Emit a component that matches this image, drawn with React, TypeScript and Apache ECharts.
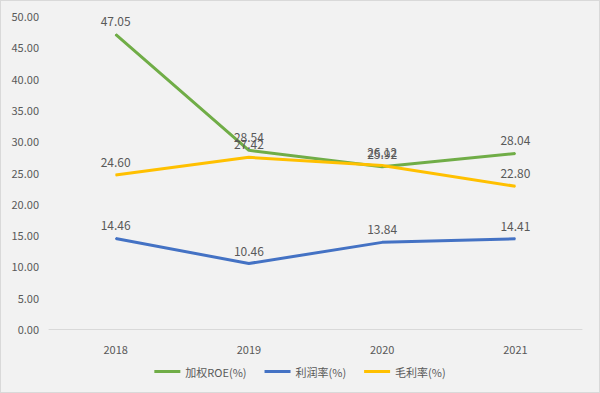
import React, { useEffect, useRef } from "react";
import * as echarts from "echarts";

const years = ["2018", "2019", "2020", "2021"];
const roe = [47.05, 28.54, 25.92, 28.04];
const profitRate = [14.46, 10.46, 13.84, 14.41];
const grossRate = [24.6, 27.42, 26.12, 22.8];
const seriesNames = ["加权ROE(%)", "利润率(%)", "毛利率(%)"];
const colors = ["#70ad47", "#4472c4", "#ffc000"];

export default function App() {
  const ref = useRef<HTMLDivElement>(null);
  useEffect(() => {
    const chart = echarts.init(ref.current!, undefined, { renderer: "svg" });
    const datas = [roe, profitRate, grossRate];
    chart.setOption({
      animation: false,
      backgroundColor: "#f2f2f2",
      textStyle: { fontFamily: "'Noto Sans CJK SC', 'Open Sans', sans-serif" },
      grid: { left: 48, right: 17, top: 15, bottom: 63 },
      legend: {
        bottom: 10,
        left: "center",
        itemWidth: 26,
        itemHeight: 3,
        itemGap: 18,
        icon: "rect",
        textStyle: { color: "#595959", fontSize: 11 },
        data: seriesNames,
      },
      xAxis: {
        type: "category",
        data: years,
        axisLine: { lineStyle: { color: "#d9d9d9" } },
        axisTick: { show: false },
        axisLabel: { color: "#595959", fontSize: 11, margin: 14 },
      },
      yAxis: {
        type: "value",
        min: 0,
        max: 50,
        interval: 5,
        splitLine: { show: false },
        axisLine: { show: false },
        axisTick: { show: false },
        axisLabel: {
          color: "#595959",
          fontSize: 11,
          margin: 10,
          formatter: (v: number) => v.toFixed(2),
        },
      },
      series: datas.map((d, i) => ({
        name: seriesNames[i],
        type: "line",
        data: d,
        symbol: "circle",
        symbolSize: 1,
        showSymbol: true,
        color: colors[i],
        itemStyle: { color: colors[i] },
        lineStyle: { width: 3, color: colors[i] },
        label: {
          show: true,
          position: "top",
          distance: 7,
          color: "#595959",
          fontSize: 12,
          formatter: (p: any) => Number(p.value).toFixed(2),
        },
        labelLayout: { hideOverlap: false },
      })),
    });
    return () => chart.dispose();
  }, []);
  return (
    <div
      ref={ref}
      style={{
        position: "fixed",
        left: 0,
        top: 0,
        width: 600,
        height: 393,
        boxSizing: "border-box",
        border: "1px solid #d9d9d9",
      }}
    />
  );
}
